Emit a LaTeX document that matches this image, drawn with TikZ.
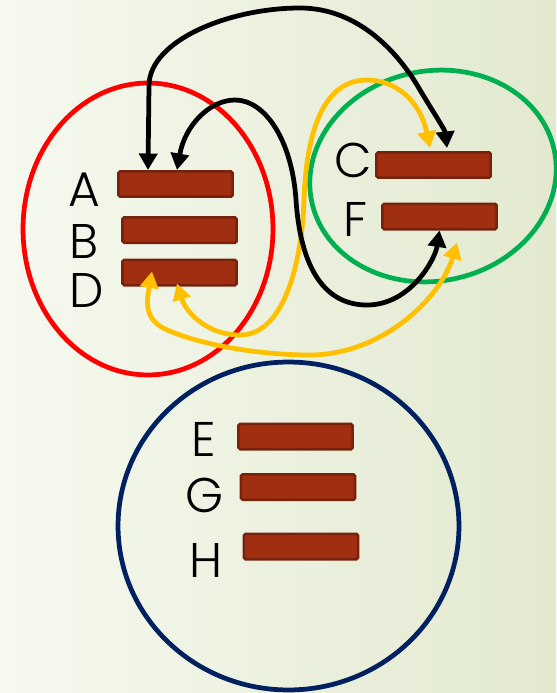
\documentclass[tikz,border=0pt]{standalone}
\usepackage{fontspec}
\setmainfont{Poppins Light}
\usepackage{tikz}
\usetikzlibrary{arrows.meta,calc}
\definecolor{bgleft}{RGB}{246,249,239}
\definecolor{bgright}{RGB}{226,233,207}
\definecolor{barfill}{RGB}{160,46,16}
\definecolor{barline}{RGB}{118,34,12}
\definecolor{grpred}{RGB}{255,0,0}
\definecolor{grpgreen}{RGB}{0,176,80}
\definecolor{grpnavy}{RGB}{0,32,96}
\definecolor{linkgold}{RGB}{255,192,0}

\begin{document}
\begin{tikzpicture}[
  x=0.02cm, y=-0.02cm,
  font=\fontsize{27.7}{30}\selectfont,
  bar/.style={draw=barline, fill=barfill, line width=0.05cm, rounded corners=1pt,
    minimum width=2.29cm, minimum height=0.51cm, inner sep=0pt},
  tag/.style={inner sep=0pt},
  group/.style={line width=0.095cm},
  link/.style={line width=0.095cm,
    {Triangle[width=0.36cm,length=0.33cm]}-{Triangle[width=0.36cm,length=0.33cm]}}
]
\useasboundingbox (0,0) rectangle (556,693);
\shade[left color=bgleft, right color=bgright] (0,0) rectangle (556,693);

% groups
\draw[group, draw=grpred] (148,229) ellipse [x radius=2.5cm, y radius=2.92cm];
\draw[group, draw=grpgreen, rotate around={12:(433,176)}] (433,176) ellipse [x radius=2.48cm, y radius=2.1cm];
\draw[group, draw=grpnavy] (288.5,526) ellipse [x radius=3.41cm, y radius=3.28cm];

% records
\node[bar] (a) at (175.5,184) {};
\node[bar] (b) at (179.5,230) {};
\node[bar] (d) at (179.5,272.5) {};
\node[bar] (c) at (433.5,165) {};
\node[bar] (f) at (439.5,216.5) {};
\node[bar] (e) at (295.5,436.5) {};
\node[bar] (g) at (298,487) {};
\node[bar] (h) at (301,546.5) {};

\node[tag] (la) at (84,190) {A};
\node[tag] (lb) at (84,241) {B};
\node[tag] (ld) at (87,290) {D};
\node[tag] (lc) at (353,160) {C};
\node[tag] (lf) at (355,219) {F};
\node[tag] (le) at (204,439) {E};
\node[tag] (lg) at (205,495) {G};
\node[tag] (lh) at (206,560) {H};

% link ends
\coordinate (a1) at ($(a.north)+(-27.5,0)$);
\coordinate (a2) at ($(a.north)+(1.5,0)$);
\coordinate (c1) at ($(c.north)+(13.5,-3)$);
\coordinate (c2) at ($(c.north)+(-3.5,-3)$);
\coordinate (f1) at (f.south);
\coordinate (f2) at ($(f.south)+(17.5,12)$);
\coordinate (d1) at ($(d.south)+(-2.5,-3)$);
\coordinate (d2) at ($(d.south)+(-27.5,-15)$);

\draw[link, color=linkgold] (c2) .. controls (420,100) and (395,80) .. (367,80)
  .. controls (320,80) and (306,140) .. (304,200)
  .. controls (302,260) and (285,335) .. (240,335)
  .. controls (205,335) and (185,310) .. (d1);
\draw[link, color=linkgold] (d2) .. controls (147,300) and (143,318) .. (165,329)
  .. controls (200,345) and (260,355) .. (310,355)
  .. controls (380,355) and (440,300) .. (f2);
\draw[link] (a1) -- (149,85) .. controls (150,40) and (230,8) .. (300,8)
  .. controls (360,8) and (400,55) .. (420,90)
  .. controls (435,115) and (445,130) .. (c1);
\draw[link] (a2) .. controls (185,125) and (210,100) .. (235,100)
  .. controls (265,100) and (292,140) .. (296,200)
  .. controls (300,260) and (320,305) .. (367,305)
  .. controls (410,305) and (435,260) .. (f1);
\end{tikzpicture}
\end{document}
